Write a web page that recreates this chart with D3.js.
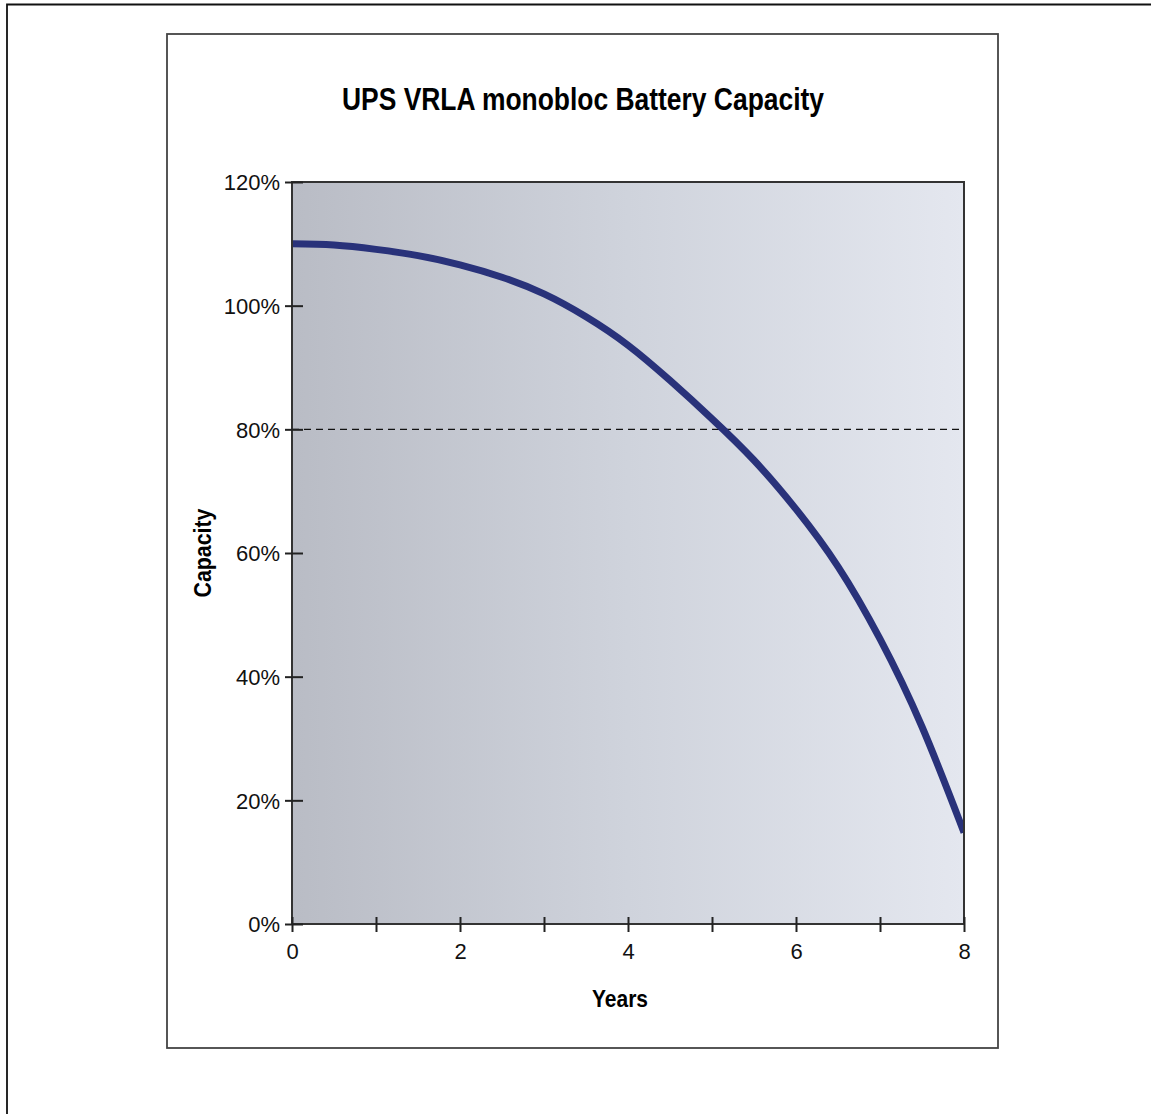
<!DOCTYPE html>
<html>
<head>
<meta charset="utf-8">
<script src="https://cdn.jsdelivr.net/npm/d3@7"></script>
<style>
  body { margin: 0; background: #fff; }
  svg { display: block; }
</style>
</head>
<body>
<script>
// * Data
const years = [0, 0.5, 1, 1.5, 2, 2.5, 3, 3.5, 4, 4.5, 5, 5.5, 6, 6.5, 7, 7.5, 8];
const capacity = [110, 109.8, 109.1, 108.1, 106.6, 104.6, 101.9, 98.2, 93.6, 87.9, 81.7, 75.0, 67.1, 57.8, 46.1, 31.9, 14.8];
const yTicks = [0, 20, 40, 60, 80, 100, 120];
const xTicks = [0, 1, 2, 3, 4, 5, 6, 7, 8];
const limitLine = 80;

// * Size & plot box
const width = 1151;
const height = 1114;
const plot = { left: 292, right: 964, top: 182, bottom: 924 };

const svg = d3
	.select("body")
	.append("svg")
	.attr("width", width)
	.attr("height", height);

// * outer frames
svg.append("path")
	.attr("d", `M7,${height + 5} L7,4.5 L${width + 5},4.5`)
	.attr("fill", "none")
	.attr("stroke", "#111")
	.attr("stroke-width", 1.8);

svg.append("rect")
	.attr("x", 167)
	.attr("y", 34)
	.attr("width", 831)
	.attr("height", 1014)
	.attr("fill", "none")
	.attr("stroke", "#444")
	.attr("stroke-width", 1.8);

// * scales
const x = d3.scaleLinear().domain([0, 8]).range([plot.left, plot.right]);
const y = d3.scaleLinear().domain([0, 120]).range([plot.bottom, plot.top]);

// * background gradient
const defs = svg.append("defs");
const grad = defs.append("linearGradient")
	.attr("id", "bg")
	.attr("x1", "0%").attr("x2", "100%")
	.attr("y1", "0%").attr("y2", "0%");
grad.append("stop").attr("offset", "0%").attr("stop-color", "#b9bcc5");
grad.append("stop").attr("offset", "50%").attr("stop-color", "#cfd3dc");
grad.append("stop").attr("offset", "100%").attr("stop-color", "#e4e7ef");

defs.append("clipPath")
	.attr("id", "clip")
	.append("rect")
	.attr("x", plot.left)
	.attr("y", plot.top)
	.attr("width", plot.right - plot.left)
	.attr("height", plot.bottom - plot.top);

svg.append("rect")
	.attr("x", plot.left)
	.attr("y", plot.top)
	.attr("width", plot.right - plot.left)
	.attr("height", plot.bottom - plot.top)
	.attr("fill", "url(#bg)");

// * 80% dashed line
svg.append("line")
	.attr("x1", x(0))
	.attr("x2", x(8))
	.attr("y1", y(limitLine))
	.attr("y2", y(limitLine))
	.attr("stroke", "#111")
	.attr("stroke-width", 1.3)
	.attr("stroke-dasharray", "7,5");

// * capacity curve
const line = d3.line()
	.x((d, i) => x(years[i]))
	.y((d) => y(d))
	.curve(d3.curveNatural);

svg.append("path")
	.datum(capacity)
	.attr("clip-path", "url(#clip)")
	.attr("d", line)
	.attr("fill", "none")
	.attr("stroke", "#29327a")
	.attr("stroke-width", 7);

// * frame
svg.append("rect")
	.attr("x", plot.left)
	.attr("y", plot.top)
	.attr("width", plot.right - plot.left)
	.attr("height", plot.bottom - plot.top)
	.attr("fill", "none")
	.attr("stroke", "#333")
	.attr("stroke-width", 2);

// * AXES
const yAxis = svg.append("g")
	.attr("transform", `translate(${plot.left},0)`)
	.call(d3.axisLeft(y).tickValues(yTicks).tickFormat((d) => d + "%").tickSize(7).tickPadding(5));
yAxis.select(".domain").remove();
yAxis.selectAll("line").attr("x1", 11).attr("stroke", "#222").attr("stroke-width", 2);
yAxis.selectAll("text")
	.attr("font-family", "'Liberation Sans', Arial, sans-serif")
	.attr("font-size", 22)
	.attr("fill", "#111")
	.attr("dy", "0.35em");

const xAxis = svg.append("g")
	.attr("transform", `translate(0,${plot.bottom})`)
	.call(d3.axisBottom(x).tickValues(xTicks).tickFormat((d) => (d % 2 === 0 ? d : "")).tickSize(8));
xAxis.select(".domain").remove();
xAxis.selectAll("line").attr("y1", -7).attr("stroke", "#222").attr("stroke-width", 2);
xAxis.selectAll("text")
	.attr("font-family", "'Liberation Sans', Arial, sans-serif")
	.attr("font-size", 22)
	.attr("fill", "#111")
	.attr("y", 35)
	.attr("dy", null);

// * Titles
svg.append("text")
	.attr("x", 583)
	.attr("y", 110)
	.attr("text-anchor", "middle")
	.attr("font-family", "'Liberation Sans', Arial, sans-serif")
	.attr("font-weight", "bold")
	.attr("font-size", 31)
	.attr("textLength", 482)
	.attr("lengthAdjust", "spacingAndGlyphs")
	.attr("fill", "#000")
	.text("UPS VRLA monobloc Battery Capacity");

svg.append("text")
	.attr("x", 620)
	.attr("y", 1007)
	.attr("text-anchor", "middle")
	.attr("font-family", "'Liberation Sans', Arial, sans-serif")
	.attr("font-weight", "bold")
	.attr("font-size", 24)
	.attr("textLength", 56)
	.attr("lengthAdjust", "spacingAndGlyphs")
	.attr("fill", "#000")
	.text("Years");

svg.append("text")
	.attr("transform", `translate(211,${(plot.top + plot.bottom) / 2}) rotate(-90)`)
	.attr("text-anchor", "middle")
	.attr("font-family", "'Liberation Sans', Arial, sans-serif")
	.attr("font-weight", "bold")
	.attr("font-size", 24)
	.attr("textLength", 89)
	.attr("lengthAdjust", "spacingAndGlyphs")
	.attr("fill", "#000")
	.text("Capacity");
</script>
</body>
</html>
